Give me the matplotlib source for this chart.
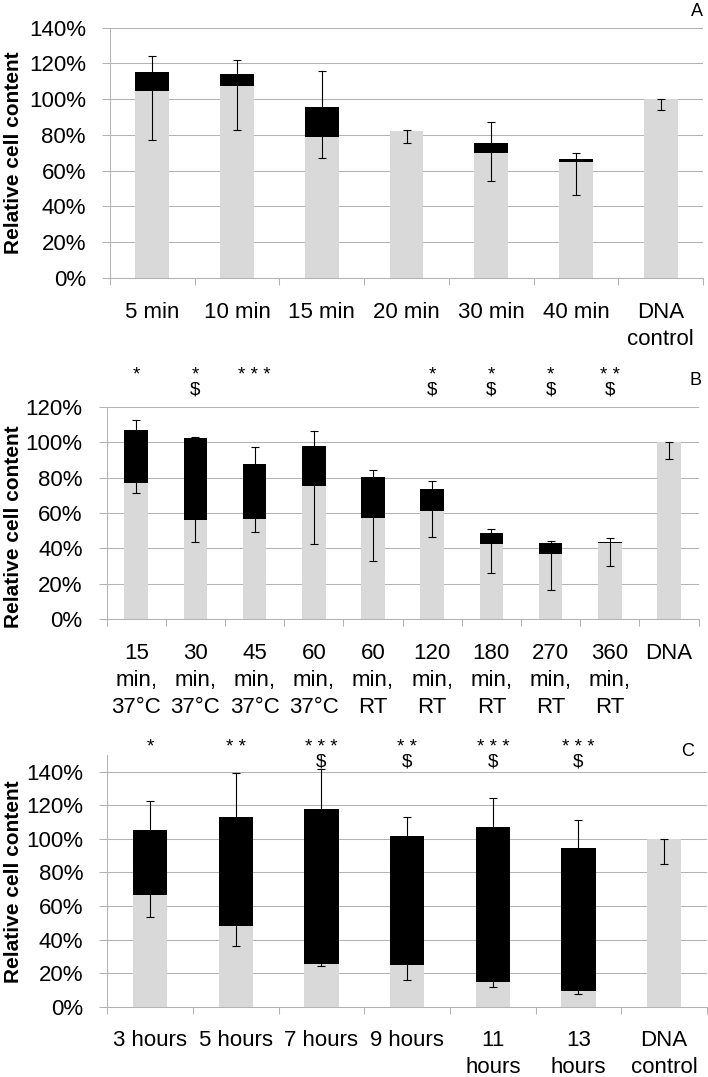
import numpy as np
import matplotlib
matplotlib.use('Agg')
import matplotlib.pyplot as plt
from matplotlib.transforms import blended_transform_factory

plt.rcParams['font.family'] = ['Liberation Sans', 'DejaVu Sans']

# panel A: incubation time
a_labels = ['5 min', '10 min', '15 min', '20 min', '30 min', '40 min', 'DNA\ncontrol']
a_gray = [104.4, 107.5, 78.9, 82.1, 70.0, 64.6, 100.0]
a_black = [10.6, 6.4, 16.7, 0.0, 5.4, 1.7, 0.0]
a_err_down = [27.2, 24.7, 11.7, 6.7, 15.6, 18.2, 6.3]
a_err_up = [9.3, 8.1, 19.9, 0.4, 11.8, 3.5, 0.0]

# panel B: time and temperature
b_labels = ['15\nmin,\n37°C', '30\nmin,\n37°C', '45\nmin,\n37°C', '60\nmin,\n37°C',
            '60\nmin,\nRT', '120\nmin,\nRT', '180\nmin,\nRT', '270\nmin,\nRT',
            '360\nmin,\nRT', 'DNA']
b_gray = [77.1, 56.3, 56.6, 75.3, 57.3, 61.2, 42.5, 37.1, 42.9, 100.0]
b_black = [30.0, 46.2, 31.1, 22.5, 23.0, 12.6, 6.4, 6.2, 0.7, 0.0]
b_err_down = [5.6, 12.8, 7.1, 33.0, 24.3, 14.9, 16.1, 20.6, 12.9, 9.7]
b_err_up = [5.6, 0.4, 9.4, 8.5, 4.2, 4.5, 2.2, 0.7, 2.5, 0.0]
b_stars = ['*', '*', '***', '', '', '*', '*', '*', '**', '']
b_dollar = ['', '$', '', '', '', '$', '$', '$', '$', '']

# panel C: hours
c_labels = ['3 hours', '5 hours', '7 hours', '9 hours', '11\nhours', '13\nhours', 'DNA\ncontrol']
c_gray = [66.7, 47.9, 25.2, 24.8, 14.9, 9.3, 100.0]
c_black = [38.6, 64.9, 92.6, 77.0, 92.4, 85.2, 0.0]
c_err_down = [13.5, 11.6, 1.2, 8.6, 3.4, 2.0, 14.7]
c_err_up = [17.4, 26.6, 24.0, 11.3, 17.1, 16.6, 0.0]
c_stars = ['*', '**', '***', '**', '***', '***', '']
c_dollar = ['', '', '$', '$', '$', '$', '']

W, H = 708, 1077
GRAY = '#d9d9d9'
LINE = '#b3b3b3'

fig = plt.figure(figsize=(W / 100, H / 100), dpi=100)


def add_ax(left, right, top, bottom):
    # positions given in pixels of the final picture
    return fig.add_axes([left / W, 1 - bottom / H, (right - left) / W, (bottom - top) / H])


def draw_panel(ax, labels, gray, black, err_down, err_up, ymax, ytop):
    x = np.arange(len(labels))
    gray = np.array(gray)
    black = np.array(black)
    total = gray + black
    ax.bar(x, gray, width=0.4, color=GRAY, zorder=2)
    ax.bar(x, black, width=0.4, bottom=gray, color='black', zorder=2)
    lower = total - (gray - np.array(err_down))
    ax.errorbar(x, total, yerr=[lower, err_up], fmt='none', ecolor='black',
                elinewidth=0.8, capsize=3, capthick=0.8, zorder=3)
    ax.set_xlim(-0.5, len(labels) - 0.5)
    ax.set_ylim(0, ymax)
    ax.set_yticks(np.arange(0, ytop + 1, 20))
    ax.yaxis.set_major_formatter(lambda v, p: f'{v:.0f}%')
    ax.set_xticks(x)
    ax.set_xticklabels(labels, linespacing=1.38)
    ax.set_xticks(np.arange(len(labels) + 1) - 0.5, minor=True)
    ax.tick_params(axis='x', which='major', length=0, pad=17, labelsize=16)
    ax.tick_params(axis='x', which='minor', length=5.3, width=0.75, color=LINE)
    ax.tick_params(axis='y', length=5.8, width=0.75, color=LINE, pad=11.5, labelsize=16)
    ax.grid(axis='y', color=LINE, lw=0.75)
    ax.set_axisbelow(True)
    for s in ['top', 'right']:
        ax.spines[s].set_visible(False)
    for s in ['left', 'bottom']:
        ax.spines[s].set_color(LINE)
        ax.spines[s].set_linewidth(0.75)


def add_marks(ax, stars, dollars, star_y):
    # star row and "$" row in one text; baseline is that of the last line
    tr = blended_transform_factory(ax.transData, fig.transFigure)
    for i, (s, d) in enumerate(zip(stars, dollars)):
        txt = ' '.join(s)
        base = star_y + 10.7
        if d:
            txt = txt + '\n' + d
            base = star_y + 25.6
        if txt:
            ax.text(i, 1 - base / H, txt, transform=tr, ha='center',
                    va='baseline', fontsize=13.5, linespacing=0.85)


ax_a = add_ax(110, 703, 27.5, 278)
draw_panel(ax_a, a_labels, a_gray, a_black, a_err_down, a_err_up, 140, 140)

ax_b = add_ax(106.7, 698.5, 406.7, 619.3)
draw_panel(ax_b, b_labels, b_gray, b_black, b_err_down, b_err_up, 120, 120)
add_marks(ax_b, b_stars, b_dollar, 369)

ax_c = add_ax(107.3, 707, 755, 1006.7)
draw_panel(ax_c, c_labels, c_gray, c_black, c_err_down, c_err_up, 150, 140)
add_marks(ax_c, c_stars, c_dollar, 741)

# y labels and panel letters
for yc in [153, 527, 882]:
    fig.text(14 / W, 1 - yc / H, 'Relative cell content', rotation=90,
             ha='center', va='center', fontsize=15, fontweight='bold')
for letter, xc, yc in [('A', 697, 11), ('B', 695.5, 380), ('C', 687.5, 752)]:
    fig.text(xc / W, 1 - yc / H, letter, ha='center', va='center', fontsize=13)

fig.savefig('out.png', dpi=100)
